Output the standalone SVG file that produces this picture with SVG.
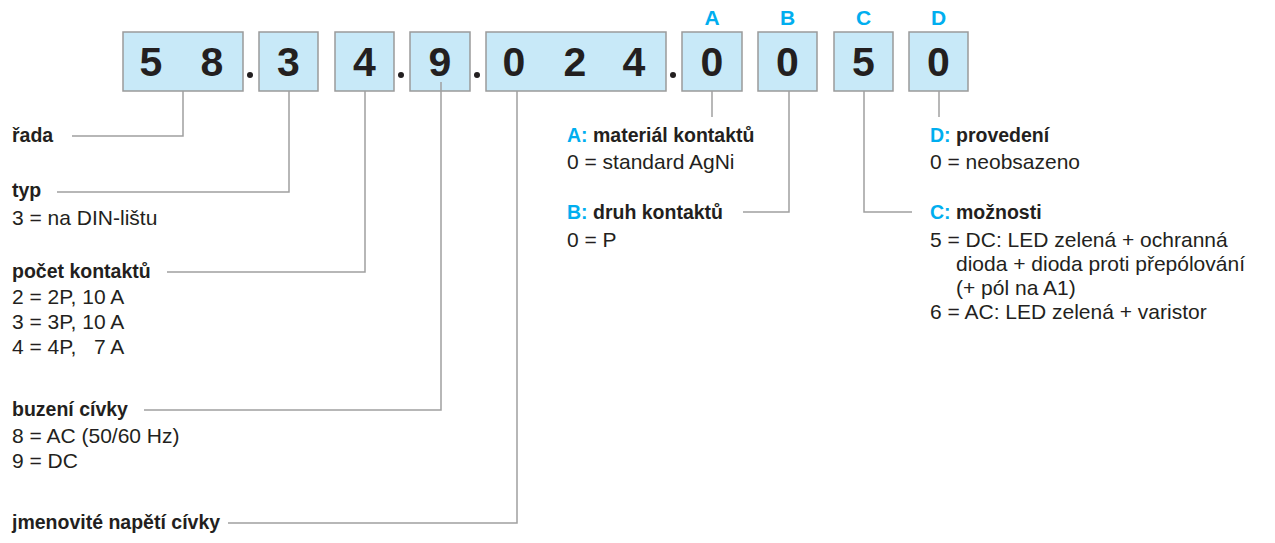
<svg xmlns="http://www.w3.org/2000/svg" width="1275" height="543" viewBox="0 0 1275 543">
<style>
.box{fill:#c8e9f8;stroke:#9a9a9a;stroke-width:1.5}
.dig{font-family:"Liberation Sans",Arial,sans-serif;font-weight:bold;font-size:41px;fill:#231f20;text-anchor:middle}
.let{font-family:"Liberation Sans",Arial,sans-serif;font-weight:bold;font-size:21px;fill:#00aeef;text-anchor:middle}
.dot{fill:#231f20}
.h{font-family:"Liberation Sans",Arial,sans-serif;font-weight:bold;font-size:19.5px;fill:#231f20}
.t{font-family:"Liberation Sans",Arial,sans-serif;font-size:21px;fill:#231f20}
.b{fill:#00aeef}
.con{fill:none;stroke:#a0a0a0;stroke-width:1.5}
</style>
<rect width="1275" height="543" fill="#fff"/>
<g id="code">
<g id="box-series"><rect class="box" x="123" y="32" width="120" height="59"/><text class="dig" x="151" y="76">5</text><text class="dig" x="212" y="76">8</text></g>
<circle class="dot" cx="250" cy="75" r="3"/>
<g id="box-type"><rect class="box" x="259" y="32" width="59" height="59"/><text class="dig" x="288.5" y="76">3</text></g>
<g id="box-contacts"><rect class="box" x="335" y="32" width="59" height="59"/><text class="dig" x="364.5" y="76">4</text></g>
<circle class="dot" cx="401" cy="75" r="3"/>
<g id="box-coil"><rect class="box" x="410" y="32" width="60" height="59"/><text class="dig" x="440" y="76">9</text></g>
<circle class="dot" cx="477" cy="75" r="3"/>
<g id="box-voltage"><rect class="box" x="486" y="32" width="180" height="59"/><text class="dig" x="514" y="76">0</text><text class="dig" x="575" y="76">2</text><text class="dig" x="634" y="76">4</text></g>
<circle class="dot" cx="673" cy="75" r="3"/>
<g id="box-A"><text class="let" x="712" y="25">A</text><rect class="box" x="682" y="32" width="60" height="59"/><text class="dig" x="712" y="76">0</text></g>
<g id="box-B"><text class="let" x="787.5" y="25">B</text><rect class="box" x="758" y="32" width="59" height="59"/><text class="dig" x="787.5" y="76">0</text></g>
<g id="box-C"><text class="let" x="863.5" y="25">C</text><rect class="box" x="834" y="32" width="59" height="59"/><text class="dig" x="863.5" y="76">5</text></g>
<g id="box-D"><text class="let" x="938.5" y="25">D</text><rect class="box" x="909" y="32" width="59" height="59"/><text class="dig" x="938.5" y="76">0</text></g>
</g>
<g id="connectors">
<path class="con" d="M183 91V136H72"/>
<path class="con" d="M289 91V192H57"/>
<path class="con" d="M365 91V272H167"/>
<path class="con" d="M441 82V410H144"/>
<path class="con" d="M517 91V523H228"/>
<path class="con" d="M712 91V117"/>
<path class="con" d="M789 91V212H743"/>
<path class="con" d="M864 91V212H912"/>
<path class="con" d="M939 91V117"/>
</g>
<g id="label-series"><text class="h" x="12" y="142">řada</text></g>
<g id="label-type"><text class="h" x="12" y="197">typ</text><text class="t" x="12" y="225">3 = na DIN-lištu</text></g>
<g id="label-contacts"><text class="h" x="12" y="278">počet kontaktů</text><text class="t" x="12" y="304">2 = 2P, 10 A</text><text class="t" x="12" y="329">3 = 3P, 10 A</text><text class="t" x="12" y="354" xml:space="preserve">4 = 4P,   7 A</text></g>
<g id="label-coil"><text class="h" x="12" y="416">buzení cívky</text><text class="t" x="12" y="443">8 = AC (50/60 Hz)</text><text class="t" x="12" y="468">9 = DC</text></g>
<g id="label-voltage"><text class="h" x="12" y="529">jmenovité napětí cívky</text></g>
<g id="label-A"><text class="h" x="567" y="142"><tspan class="b">A:</tspan> materiál kontaktů</text><text class="t" x="567" y="169">0 = standard AgNi</text></g>
<g id="label-B"><text class="h" x="567" y="219"><tspan class="b">B:</tspan> druh kontaktů</text><text class="t" x="567" y="247">0 = P</text></g>
<g id="label-D"><text class="h" x="930" y="142"><tspan class="b">D:</tspan> provedení</text><text class="t" x="930" y="169">0 = neobsazeno</text></g>
<g id="label-C"><text class="h" x="930" y="219"><tspan class="b">C:</tspan> možnosti</text><text class="t" x="930" y="247">5 = DC: LED zelená + ochranná</text><text class="t" x="956" y="271">dioda + dioda proti přepólování</text><text class="t" x="956" y="295">(+ pól na A1)</text><text class="t" x="930" y="319">6 = AC: LED zelená + varistor</text></g>
</svg>
